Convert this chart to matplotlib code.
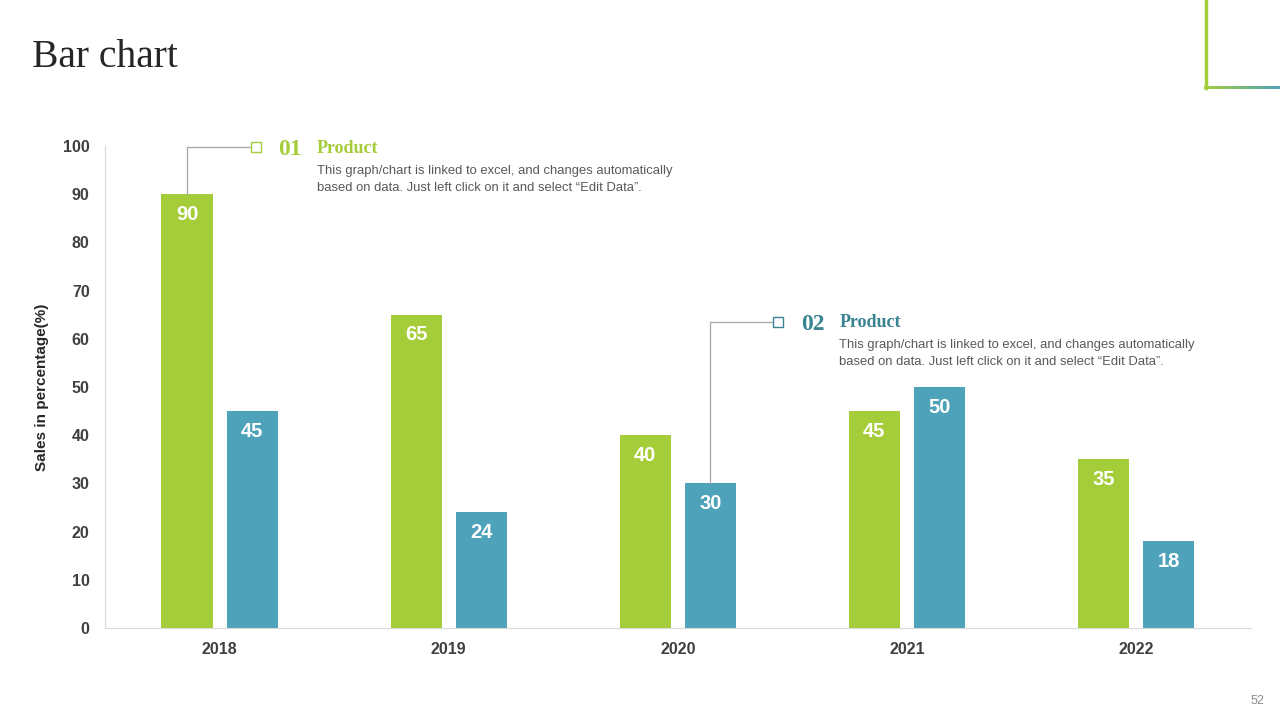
import numpy as np
import matplotlib.pyplot as plt
from matplotlib.lines import Line2D
from matplotlib.colors import LinearSegmentedColormap

years = ['2018', '2019', '2020', '2021', '2022']
product_01 = [90, 65, 40, 45, 35]
product_02 = [45, 24, 30, 50, 18]

green = '#A5CD39'
teal = '#4EA3BA'
dark_teal = '#3A8391'
desc = ('This graph/chart is linked to excel, and changes automatically\n'
        'based on data. Just left click on it and select \u201cEdit Data\u201d.')

plt.rcParams['font.family'] = ['Liberation Sans', 'DejaVu Sans']

fig = plt.figure(figsize=(12.8, 7.2), dpi=100)
ax = fig.add_axes([0.082, 0.128, 0.895, 0.669])

x = np.arange(len(years))
off = 0.142
w = 0.223
b1 = ax.bar(x - off, product_01, w, color=green)
b2 = ax.bar(x + off, product_02, w, color=teal)

for bars, vals in ((b1, product_01), (b2, product_02)):
    for bar, v in zip(bars, vals):
        ax.text(bar.get_x() + bar.get_width() / 2, v - 2.2, str(v),
                ha='center', va='top', color='white', fontsize=14.5, fontweight='bold')

ax.set_xlim(-0.5, 4.5)
ax.set_ylim(0, 100)
ax.set_yticks(range(0, 101, 10))
ax.set_xticks(x)
ax.set_xticklabels(years)
ax.tick_params(length=0, labelsize=11.5, labelcolor='#404040')
for lab in ax.get_xticklabels() + ax.get_yticklabels():
    lab.set_fontweight('bold')
ax.tick_params(axis='y', pad=11)
ax.tick_params(axis='x', pad=10)
for s in ['top', 'right']:
    ax.spines[s].set_visible(False)
for s in ['left', 'bottom']:
    ax.spines[s].set_color('#d9d9d9')
ax.set_ylabel('Sales in percentage(%)', fontsize=11, fontweight='bold', color='#262626', labelpad=10)

# callouts
callouts = [
    (0 - off, product_01[0], 99.8, 0.142, '01', green, 0.255, 0.426, 96.0),
    (2 + off, product_02[2], 63.5, 2.421, '02', dark_teal, 2.539, 2.705, 59.9),
]
for x0, y0, yh, x1, num, col, xnum, xtxt, ydesc in callouts:
    ax.plot([x0, x0, x1], [y0, yh, yh], color='#a6a6a6', lw=0.9, clip_on=False)
    ax.plot([x1 + 0.017], [yh], marker='s', ms=7.5, mfc='white', mec=col, mew=1, clip_on=False)
    ax.text(xnum, yh - 0.5, num, color=col, fontsize=17, fontweight='bold',
            family='Liberation Serif', va='center', ha='left')
    ax.text(xtxt, yh - 0.2, 'Product', color=col, fontsize=13, fontweight='bold',
            family='Liberation Serif', va='center', ha='left')
    ax.text(xtxt, ydesc, desc, color='#595959', fontsize=9.4, va='top', ha='left',
            linespacing=1.5)

# title and decorations
fig.text(0.025, 0.92, 'Bar chart', fontsize=28.5, family='Liberation Serif',
         color='#262626', va='center', ha='left')
fig.text(0.9825, 0.026, '52', fontsize=9, color='#8c8c8c', ha='center', va='center')

fig.add_artist(Line2D([1205.5 / 1280, 1205.5 / 1280], [1.0, 1 - 88 / 720],
                      transform=fig.transFigure, color=green, lw=2.5))
grad_ax = fig.add_axes([1204 / 1280, 1 - 89 / 720, 76 / 1280, 3 / 720])
grad_ax.imshow(np.linspace(0, 1, 200)[None, :], aspect='auto',
               cmap=LinearSegmentedColormap.from_list('g', [green, teal]))
grad_ax.axis('off')

fig.savefig('out.png', dpi=100)
